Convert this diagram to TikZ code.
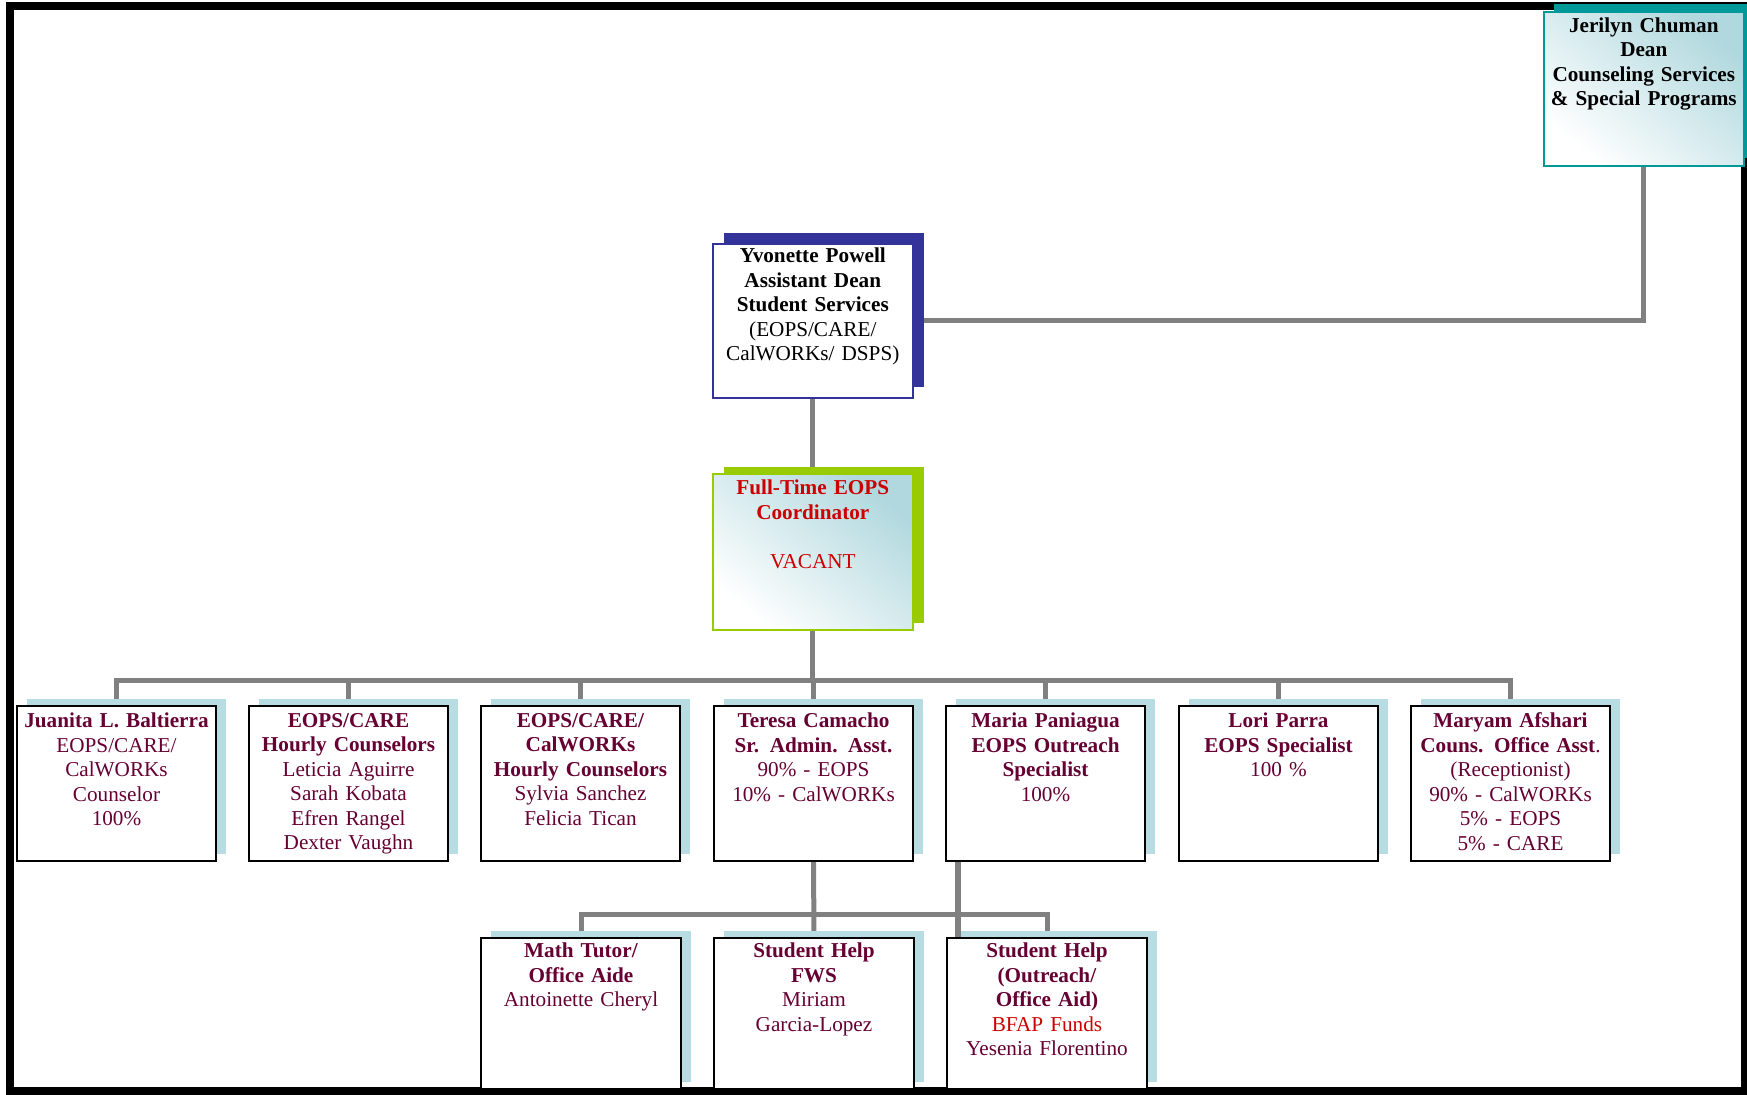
\documentclass[tikz,border=0pt]{standalone}
\usepackage{fontspec}
\setmainfont{Liberation Serif}
\usetikzlibrary{shadows}
\pgfdeclarelayer{background}
\pgfsetlayers{background,main}
\definecolor{conngray}{RGB}{128,128,128}
\definecolor{maroontxt}{RGB}{102,0,51}
\definecolor{deanteal}{RGB}{0,153,153}
\definecolor{navyblue}{RGB}{51,51,153}
\definecolor{limegreen}{RGB}{153,204,0}
\definecolor{shadowblue}{RGB}{183,221,226}
\definecolor{gradteal}{RGB}{176,216,222}
\definecolor{vred}{RGB}{204,0,0}
\tikzset{
  conn/.style={draw=conngray, line width=2.5pt},
  basebox/.style={rectangle, anchor=north west, inner sep=0pt,
    minimum width=100pt, minimum height=77.5pt},
  orgbox/.style={basebox, minimum width=99.5pt, draw=black, line width=1pt, fill=white,
    general shadow={fill=shadowblue, shadow xshift=5pt, shadow yshift=3.75pt}},
  deanbox/.style={basebox, minimum height=77pt, draw=deanteal, line width=0.8pt,
    top color=gradteal, bottom color=white, shading angle=-40,
    general shadow={fill=deanteal, shadow xshift=5pt, shadow yshift=4pt}},
  powellbox/.style={basebox, minimum height=77pt, draw=navyblue, line width=0.8pt, fill=white,
    general shadow={fill=navyblue, shadow xshift=5.5pt, shadow yshift=5.25pt}},
  coordbox/.style={basebox, minimum height=78pt, draw=limegreen, line width=0.8pt,
    top color=gradteal, bottom color=white, shading angle=-40,
    general shadow={fill=limegreen, shadow xshift=5.5pt, shadow yshift=3.5pt}},
  txt/.style={anchor=north, inner sep=0pt, text width=100pt, align=center,
    font=\fontsize{10.6}{12.25}\selectfont, text=maroontxt},
}
\begin{document}
\begin{tikzpicture}[x=0.5pt,y=-0.5pt]
\useasboundingbox (0,0) rectangle (1747,1094);
% boxes
\node[deanbox] (dean) at (1543,11) {};
\node[powellbox] (powell) at (712,243) {};
\node[coordbox] (coord) at (712,473) {};
\node[orgbox] (b1) at (16,705) {};
\node[orgbox] (b2) at (248,705) {};
\node[orgbox] (b3) at (480,705) {};
\node[orgbox] (b4) at (713,705) {};
\node[orgbox] (b5) at (945,705) {};
\node[orgbox] (b6) at (1178,705) {};
\node[orgbox] (b7) at (1410,705) {};
\node[orgbox, minimum width=100pt, minimum height=75.5pt] (r1) at (480,937) {};
\node[orgbox, minimum width=100pt, minimum height=75.5pt] (r2) at (713,937) {};
\node[orgbox, minimum width=100pt, minimum height=75.5pt] (r3) at (946,937) {};
% frame and connectors behind
\begin{pgfonlayer}{background}
\draw[line width=4pt] (10,6) rectangle (1745,1091);
\draw[conn] (dean.south) |- (powell.east);
\draw[conn] (powell.south) -- (coord.north);
\coordinate (bus) at (coord.south |- 0,680);
\draw[conn] (coord.south) -- (bus);
\foreach \b in {b1,b2,b3,b4,b5,b6,b7} {
  \draw[conn] (\b.north) |- (bus);
}
\draw[conn] (b4.south) -- (r2.north);
\draw[conn] (r1.north) -- ++(0,-23) -| (r3.north);
\end{pgfonlayer}
\draw[conn, line width=3pt] ([xshift=6.5pt]b5.south west) -- ([xshift=6pt]r3.north west);
% texts
\node[txt, text=black] (tdean) at ([yshift=-3pt]dean.north)
  {\textbf{Jerilyn Chuman}\\\textbf{Dean}\\\textbf{Counseling Services}\\\textbf{\& Special Programs}};
\node[txt, text=black] (tpowell) at ([yshift=-2.3pt]powell.north)
  {\textbf{Yvonette Powell}\\\textbf{Assistant Dean}\\\textbf{Student Services}\\(EOPS/CARE/\\CalWORKs/ DSPS)};
\node[txt, text=vred] (tcoord) at ([yshift=-3.3pt]coord.north)
  {\textbf{Full-Time EOPS}\\\textbf{Coordinator}\\~\\VACANT};
\node[txt] (t1) at ([yshift=-3.8pt]b1.north)
  {\textbf{Juanita L. Baltierra}\\EOPS/CARE/\\CalWORKs\\Counselor\\100\%};
\node[txt] (t2) at ([yshift=-3.8pt]b2.north)
  {\textbf{EOPS/CARE}\\\textbf{Hourly Counselors}\\Leticia Aguirre\\Sarah Kobata\\Efren Rangel\\Dexter Vaughn};
\node[txt] (t3) at ([yshift=-3.8pt]b3.north)
  {\textbf{EOPS/CARE/}\\\textbf{CalWORKs}\\\textbf{Hourly Counselors}\\Sylvia Sanchez\\Felicia Tican};
\node[txt] (t4) at ([yshift=-3.8pt]b4.north)
  {\textbf{Teresa Camacho}\\\textbf{Sr. Admin. Asst.}\\90\% - EOPS\\10\% - CalWORKs};
\node[txt] (t5) at ([yshift=-3.8pt]b5.north)
  {\textbf{Maria Paniagua}\\\textbf{EOPS Outreach}\\\textbf{Specialist}\\100\%};
\node[txt] (t6) at ([yshift=-3.8pt]b6.north)
  {\textbf{Lori Parra}\\\textbf{EOPS Specialist}\\100 \%};
\node[txt] (t7) at ([yshift=-3.8pt]b7.north)
  {\textbf{Maryam Afshari}\\\textbf{Couns. Office Asst}.\\(Receptionist)\\90\% - CalWORKs\\5\% - EOPS\\5\% - CARE};
\node[txt] (tr1) at ([yshift=-2.8pt]r1.north)
  {\textbf{Math Tutor/}\\\textbf{Office Aide}\\Antoinette Cheryl};
\node[txt] (tr2) at ([yshift=-2.8pt]r2.north)
  {\textbf{Student Help}\\\textbf{FWS}\\Miriam\\Garcia-Lopez};
\node[txt] (tr3) at ([yshift=-2.8pt]r3.north)
  {\textbf{Student Help}\\\textbf{(Outreach/}\\\textbf{Office Aid)}\\\textcolor{vred}{BFAP Funds}\\Yesenia Florentino};
\end{tikzpicture}
\end{document}
